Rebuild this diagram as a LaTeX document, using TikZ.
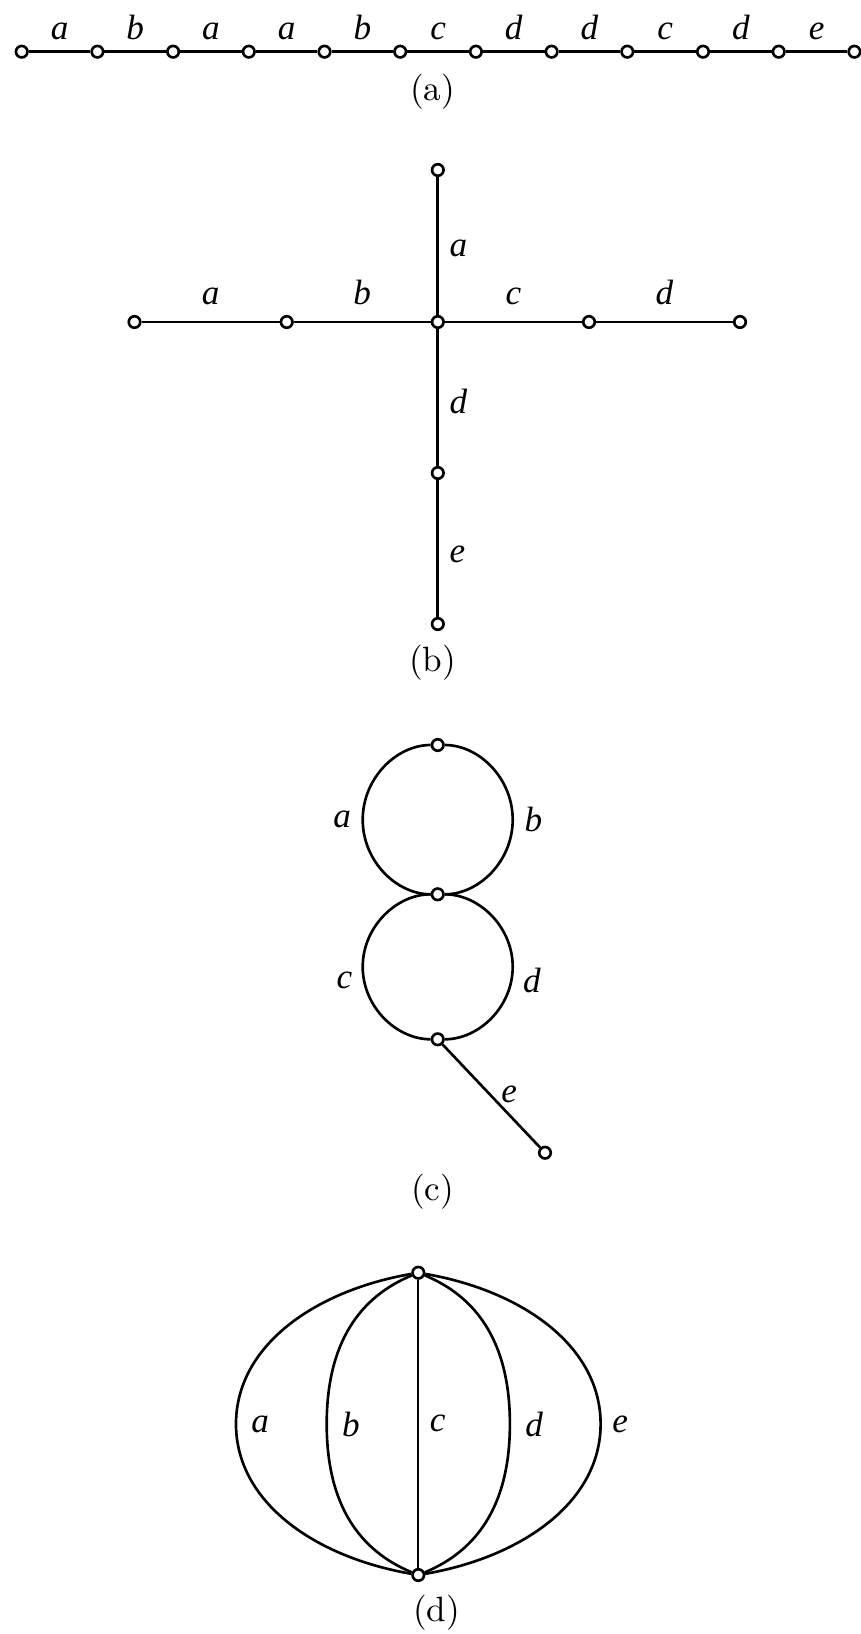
\documentclass[tikz,border=0pt]{standalone}
\usepackage{fontspec}
\usepackage{tikz}
\newfontfamily\lblfont{Liberation Serif}
\begin{document}
\begin{tikzpicture}[x=0.01cm,y=-0.01cm,line width=0.75pt,
  vtx/.style={circle,draw,fill=white,inner sep=0pt,minimum size=0.115cm},
  lbl/.style={inner sep=3pt,font=\lblfont\itshape}]
\useasboundingbox (0,0) rectangle (860,1634);
\foreach \i in {0,...,11} \node[vtx] (a\i) at (21.7+75.7*\i,51.7) {};
\foreach \l [count=\j] in {a,b,a,a,b,c,d,d,c,d,e}{
  \pgfmathtruncatemacro\i{\j-1}
  \draw (a\i) -- node[lbl,above]{\l} (a\j);}
\node (capa) at (432.6,92) {(a)};
\node[vtx] (bc) at (437.8,322) {};
\node[vtx] (bt) at (437.8,170) {};
\node[vtx] (bl2) at (134.5,322) {};
\node[vtx] (bl1) at (286.7,322) {};
\node[vtx] (br1) at (589,322) {};
\node[vtx] (br2) at (740,322) {};
\node[vtx] (bd1) at (437.8,473) {};
\node[vtx] (bd2) at (437.8,624) {};
\draw (bl2)--node[lbl,above=1.5pt]{a}(bl1)--node[lbl,above=1.5pt]{b}(bc)
  --node[lbl,above=1.5pt]{c}(br1)--node[lbl,above=1.5pt]{d}(br2);
\draw (bt)--node[lbl,right,pos=0.52]{a}(bc)--node[lbl,right,pos=0.53]{d}(bd1)
  --node[lbl,right,pos=0.54]{e}(bd2);
\node (capb) at (432.6,663) {(b)};
\node[vtx] (ct) at (437.7,745) {};
\node[vtx] (cm) at (437.7,894.3) {};
\node[vtx] (cb) at (437.7,1039.3) {};
\node[vtx] (ce) at (545,1152.7) {};
\coordinate (cul) at (362.7,819.7);
\coordinate (cur) at (512.7,819.7);
\coordinate (cll) at (362.7,966.8);
\coordinate (clr) at (512.7,966.8);
\draw (ct) .. controls +(-41.4,0) and +(0,-41.4) .. (cul) node[lbl,left]{a}
  .. controls +(0,41.4) and +(-41.4,0) .. (cm);
\draw (ct) .. controls +(41.4,0) and +(0,-41.4) .. (cur) node[lbl,right]{b}
  .. controls +(0,41.4) and +(41.4,0) .. (cm);
\draw (cm) .. controls +(-41.4,0) and +(0,-40) .. (cll)
  .. controls +(0,40) and +(-41.4,0) .. node[lbl,left,pos=0.12]{c} (cb);
\draw (cm) .. controls +(41.4,0) and +(0,-40) .. (clr)
  .. controls +(0,40) and +(41.4,0) .. node[lbl,right,pos=0.12]{d} (cb);
\draw (cb)--node[lbl,right,pos=0.48]{e}(ce);
\node (capc) at (432.6,1191.5) {(c)};
\node[vtx] (dt) at (418.3,1272.7) {};
\node[vtx] (db) at (418.3,1575) {};
\coordinate (dal) at (236,1424);
\coordinate (dbl) at (326.7,1424);
\coordinate (ddr) at (509.9,1424);
\coordinate (der) at (600.6,1424);
\draw (dt) .. controls +(-104,18) and +(0,-78) .. (dal) node[lbl,right=1pt]{a}
  .. controls +(0,78) and +(-104,-18) .. (db);
\draw (dt) .. controls +(-58,24) and +(0,-82) .. (dbl) node[lbl,right=1pt]{b}
  .. controls +(0,82) and +(-58,-24) .. (db);
\draw[line width=0.6pt] (dt) -- node[lbl,right]{c} (db);
\draw (dt) .. controls +(58,24) and +(0,-82) .. (ddr) node[lbl,right=1pt]{d}
  .. controls +(0,82) and +(58,-24) .. (db);
\draw (dt) .. controls +(104,18) and +(0,-78) .. (der) node[lbl,right]{e}
  .. controls +(0,78) and +(104,-18) .. (db);
\node (capd) at (436.7,1613) {(d)};
\end{tikzpicture}
\end{document}
